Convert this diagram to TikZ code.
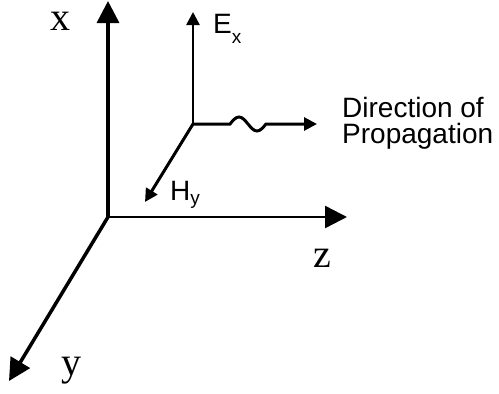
\documentclass[tikz,border=0pt]{standalone}
\usepackage{fontspec}
\setmainfont{Liberation Serif}
\setsansfont{Liberation Sans}
\usetikzlibrary{arrows.meta}
\begin{document}
\begin{tikzpicture}[x=1pt,y=-1pt,axis/.style={line width=3.5pt,-{Triangle[length=22pt,width=22pt]}},field/.style={line width=3pt,-{Triangle[length=13pt,width=13pt]}},axlabel/.style={anchor=base,inner sep=0pt,text height=19pt,text depth=0pt,font=\fontsize{40}{40}\selectfont},flabel/.style={anchor=base west,inner sep=0pt,font=\sffamily\fontsize{28}{26}\selectfont,align=left}]
\useasboundingbox (0,0) rectangle (499,394);
\coordinate (O) at (108,217);
\coordinate (X) at (108,1);
\coordinate (Z) at (347,217);
\coordinate (Y) at (9,381);
\coordinate (W) at (193,124);
\coordinate (E) at (193,12);
\coordinate (H) at (145,202);
\coordinate (D) at (317,124);
\draw[axis] (O) -- (X);
\draw[axis,line width=2.5pt] (O) -- (Z);
\draw[axis] (O) -- (Y);
\draw[field,line width=2.5pt] (W) -- (E);
\draw[field] (W) -- (H);
\draw[field] (W) -- ++(37,0) sin ++(9,-7) cos ++(9,7) sin ++(9,7) cos ++(9,-7) -- (D);
\node[axlabel] (xlab) at (60,30) {x};
\node[axlabel] (ylab) at (71,375) {y};
\node[axlabel] (zlab) at (322,267) {z};
\node[flabel] (elab) at (213,33) {E\raisebox{-10pt}{\fontsize{19}{19}\selectfont x}};
\node[flabel] (hlab) at (170,200) {H\raisebox{-4pt}{\fontsize{19}{19}\selectfont y}};
\node[flabel] (dlab) at (342,143) {Direction of\\Propagation};
\end{tikzpicture}
\end{document}
